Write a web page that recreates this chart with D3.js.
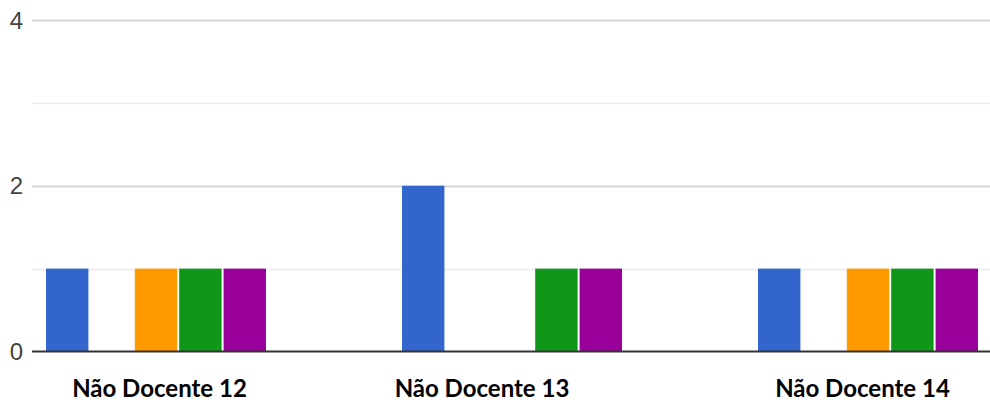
<!DOCTYPE html>
<html>
<head>
<meta charset="utf-8">
<script src="https://cdn.jsdelivr.net/npm/d3@7"></script>
<style>
  body { margin: 0; background: #fff; }
  svg { display: block; }
</style>
</head>
<body>
<script>
'use strict';

// chart data
const categories = ['Não Docente 12', 'Não Docente 13', 'Não Docente 14'];
const seriesNames = ['s1', 's2', 's3', 's4', 's5'];
const seriesColors = ['#3366cc', '#dc3912', '#ff9900', '#109618', '#990099'];
const values = [
	[1, 0, 1, 1, 1],
	[2, 0, 0, 1, 1],
	[1, 0, 1, 1, 1]
];
const yTicks = [0, 2, 4];
const yGrid = [1, 2, 3, 4];

const W = 990, H = 406;
const plot = { left: 32, right: 990, top: 20, bottom: 351.5 };

const svg = d3.select('body').append('svg').attr('width', W).attr('height', H);

let y = d3.scaleLinear().domain([0, 4]).range([plot.bottom, plot.top]);

// groups run past the visible area on both sides
let x0 = d3.scaleBand().domain(categories).range([-22, 1046]).paddingInner(0.382).paddingOuter(0.191);
let x1 = d3.scaleBand().domain(seriesNames).range([0, x0.bandwidth()]).paddingInner(0.045);

// gridlines
svg.append('g').selectAll('line')
	.data(yGrid)
	.enter()
	.append('line')
	.attr('x1', plot.left).attr('x2', plot.right)
	.attr('y1', (d) => Math.round(y(d)) + 0.5).attr('y2', (d) => Math.round(y(d)) + 0.5)
	.attr('stroke', (d) => d % 2 == 0 ? '#d6d6d6' : '#ebebeb')
	.attr('stroke-width', (d) => d % 2 == 0 ? 2 : 1.5);

// bars
let groups = svg.append('g').selectAll('g')
	.data(values)
	.enter()
	.append('g')
	.attr('transform', (d, i) => 'translate(' + x0(categories[i]) + ',0)');

groups.selectAll('rect')
	.data((d) => d.map((v, j) => ({ v: v, j: j })))
	.enter()
	.append('rect')
	.attr('x', (d) => x1(seriesNames[d.j]))
	.attr('width', x1.bandwidth())
	.attr('y', (d) => y(d.v))
	.attr('height', (d) => Math.max(0, y(0) - y(d.v)))
	.attr('fill', (d) => seriesColors[d.j]);

// baseline
svg.append('line')
	.attr('x1', plot.left).attr('x2', plot.right)
	.attr('y1', y(0)).attr('y2', y(0))
	.attr('stroke', '#333').attr('stroke-width', 2);

// y tick labels
svg.append('g').selectAll('text')
	.data(yTicks)
	.enter()
	.append('text')
	.attr('x', 23)
	.attr('y', (d) => y(d))
	.attr('dy', '0.36em')
	.attr('text-anchor', 'end')
	.attr('font-family', '"Liberation Sans", Arial, sans-serif')
	.attr('font-size', 24)
	.attr('fill', '#444')
	.text((d) => d);

// category labels (slightly off the group centres in the source)
const labelShift = [3.5, -30, -5.5];
svg.append('g').selectAll('text')
	.data(categories)
	.enter()
	.append('text')
	.attr('x', (d, i) => x0(d) + x0.bandwidth() / 2 + labelShift[i])
	.attr('y', 397)
	.attr('text-anchor', 'middle')
	.attr('font-family', 'Lato, "Open Sans", sans-serif')
	.attr('font-weight', 'bold')
	.attr('font-size', 24)
	.attr('fill', '#000')
	.text((d) => d);
</script>
</body>
</html>
